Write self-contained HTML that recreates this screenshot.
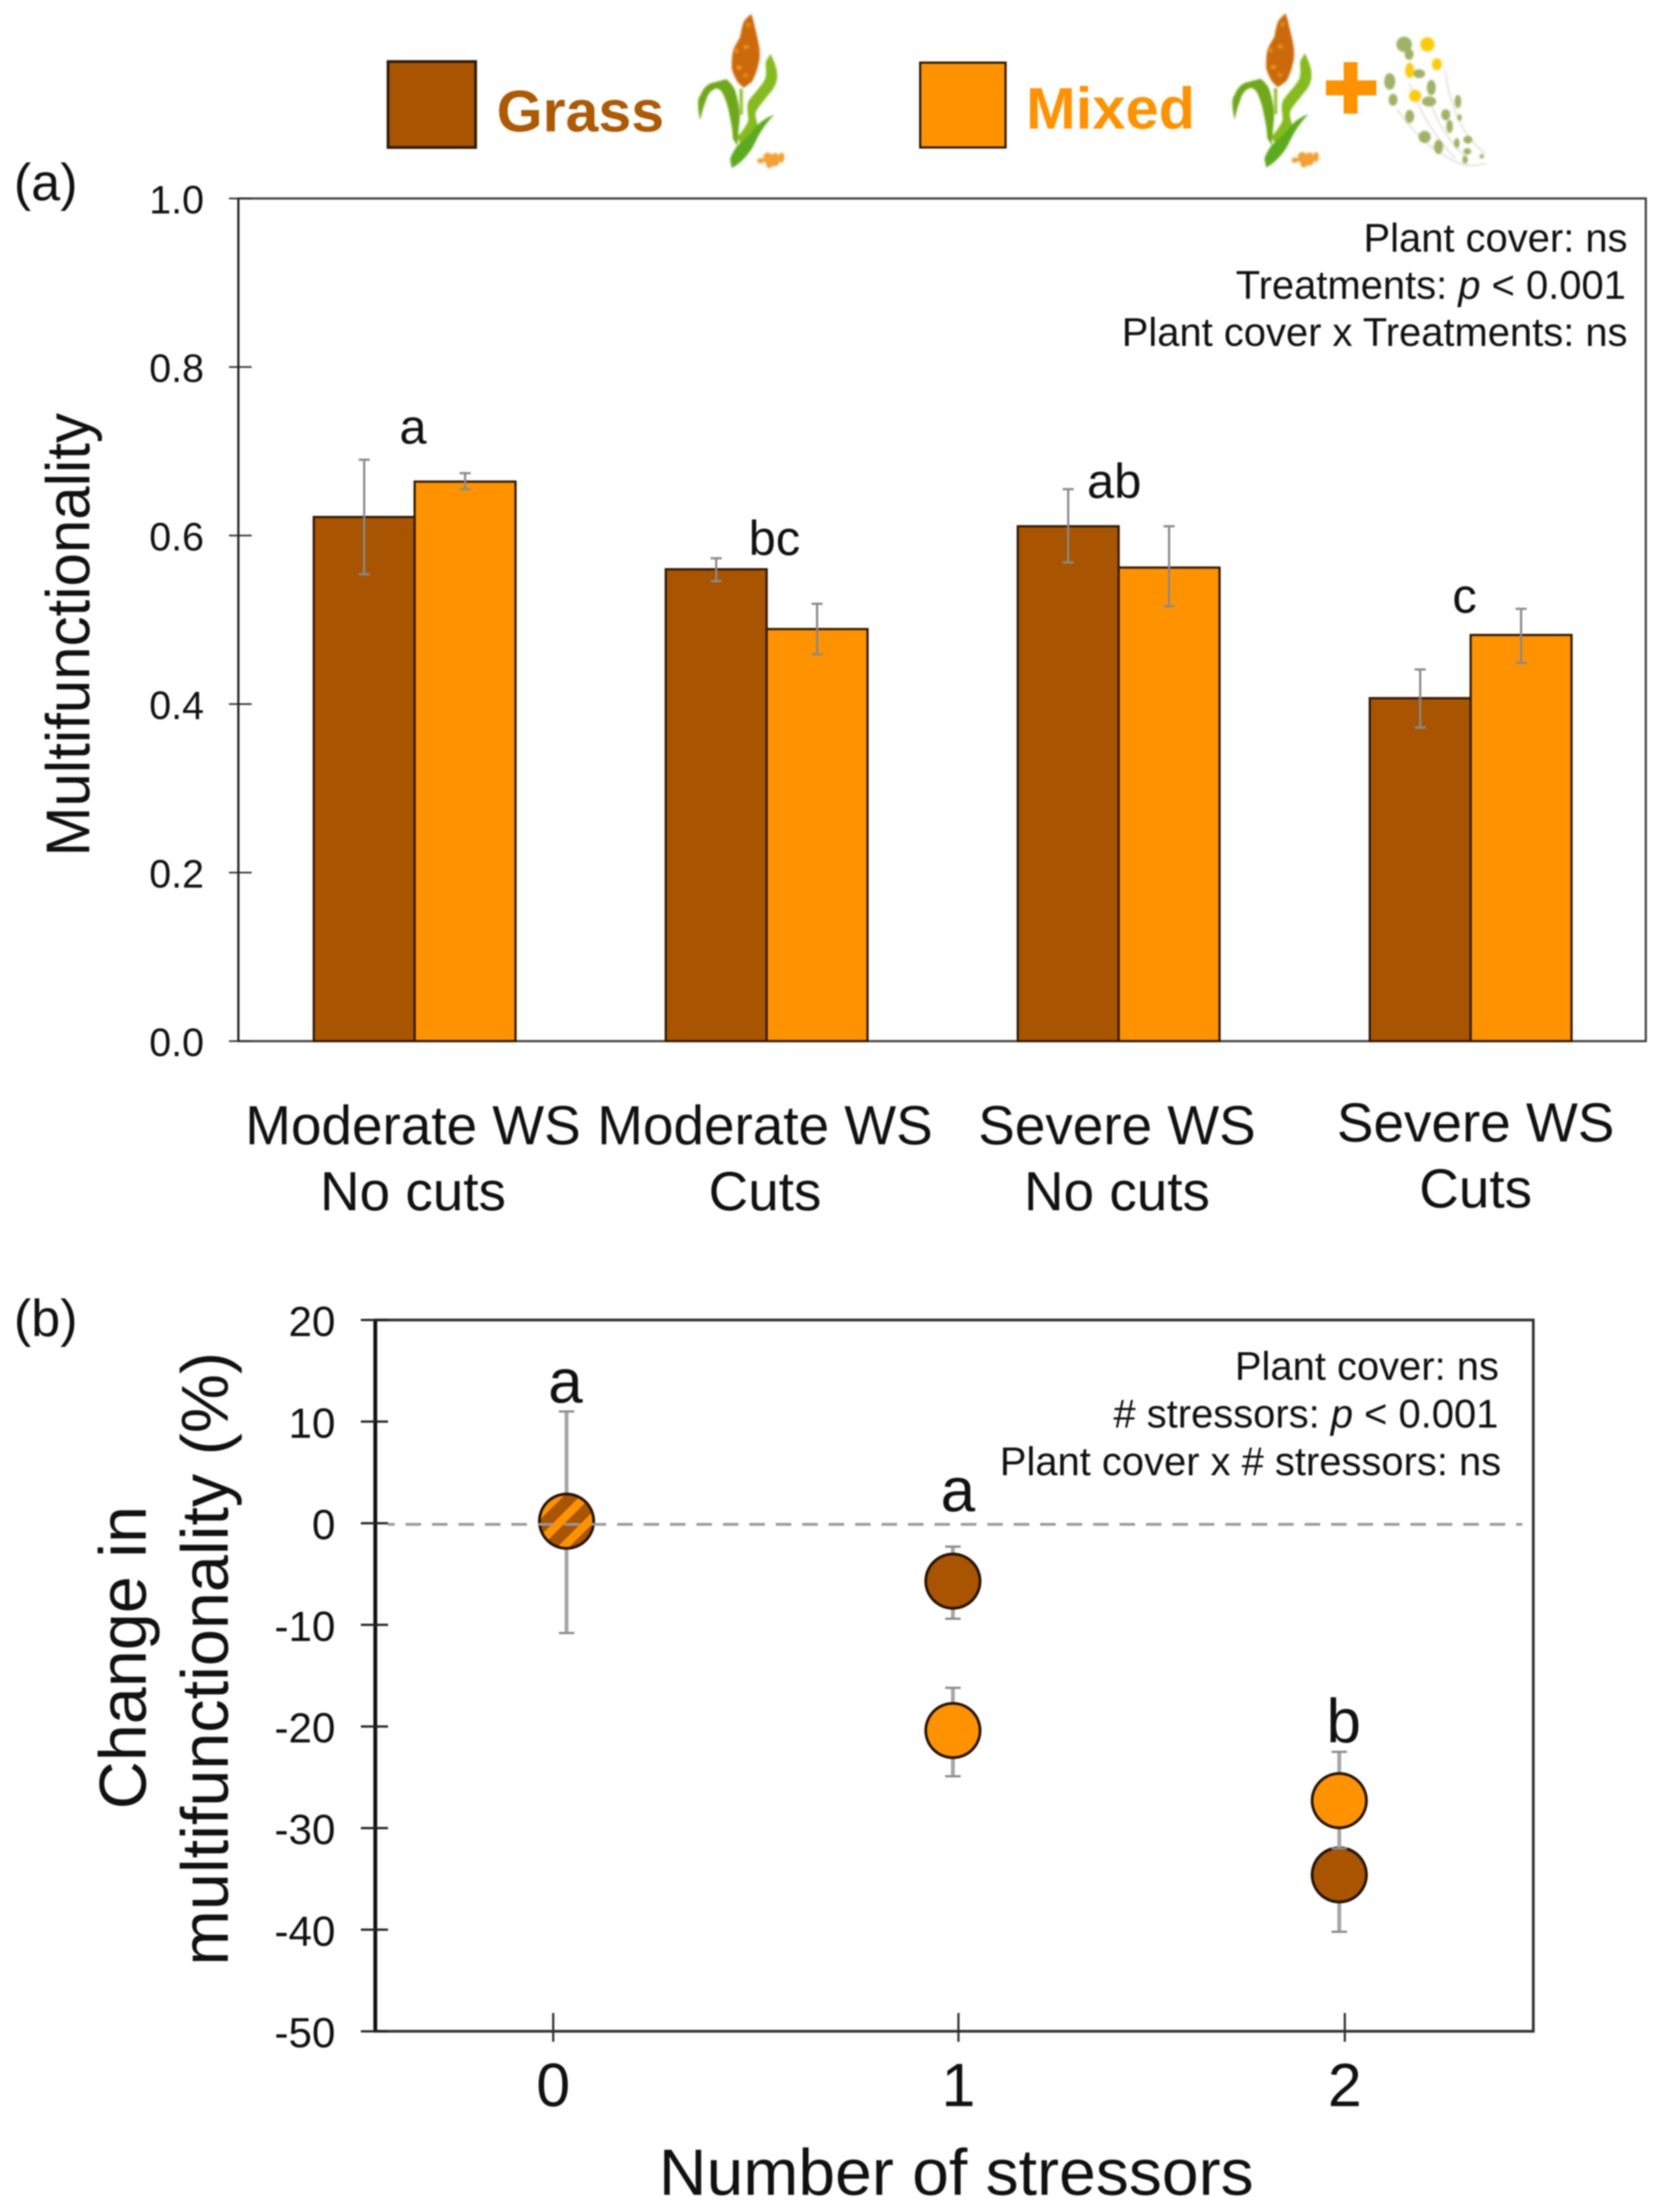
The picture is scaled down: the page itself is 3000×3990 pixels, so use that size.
<!DOCTYPE html>
<html>
<head>
<meta charset="utf-8">
<title>Multifunctionality chart</title>
<style>
  html,body{margin:0;padding:0;background:#fff;}
  svg{display:block;filter:blur(1.2px);}
  text{font-family:"Liberation Sans",sans-serif;fill:#111;}
  .soft{filter:blur(1.6px);}
</style>
</head>
<body>
<svg id="chart" xmlns="http://www.w3.org/2000/svg" width="3000" height="3990" viewBox="0 0 3000 3990">
  <defs>
    <pattern id="hatch" patternUnits="userSpaceOnUse" width="36" height="36" patternTransform="rotate(45 1022 2743)">
      <rect width="36" height="36" fill="#a85400"/>
      <rect width="15" height="36" fill="#ff9200"/>
    </pattern>
    <g id="sorghum" class="soft">
      <path d="M1334 160 L1340 160 L1340 207 L1335 207Z" fill="#8fbf2b"/>
      <path d="M1263 217 C1258 195 1258 175 1263 173 C1268 160 1275 153 1283 150 L1310 143 C1320 150 1326 160 1328 170 C1334 190 1336 210 1333 227 L1330 263 L1322 250 C1322 238 1320 228 1318 217 C1314 195 1310 180 1303 167 C1298 160 1294 159 1290 160 C1280 165 1276 172 1273 183 C1268 195 1266 205 1263 217Z" fill="#6fa819"/>
      <path d="M1390 97 C1396 110 1402 122 1402 137 C1402 150 1396 160 1387 170 C1378 182 1368 192 1363 203 C1362 212 1366 220 1367 227 C1358 240 1348 252 1337 263 L1330 247 C1338 238 1346 228 1350 217 C1350 205 1346 195 1350 183 C1358 170 1372 158 1380 143 C1384 130 1380 120 1382 110Z" fill="#85bb1e"/>
      <path d="M1397 207 C1388 215 1380 226 1373 237 C1366 248 1362 258 1357 267 C1346 284 1334 296 1320 303 L1317 287 C1320 278 1325 270 1330 263 C1342 252 1354 242 1363 230 C1368 224 1372 220 1377 217 C1384 212 1390 209 1397 207Z" fill="#5cab1f"/>
      <path d="M1355 25 C1350 30 1346 33 1343 37 C1338 47 1337 57 1335 67 C1330 76 1324 85 1322 93 C1320 103 1320 113 1320 123 C1322 132 1326 140 1330 147 C1334 152 1338 156 1342 158 C1347 155 1352 151 1357 147 C1362 137 1366 127 1368 117 C1371 107 1371 97 1370 87 C1368 74 1365 62 1362 50 C1360 40 1358 32 1355 25Z" fill="#cc6a0b"/>
      <ellipse cx="1333" cy="122" rx="5" ry="4" fill="#e8941a"/>
      <ellipse cx="1346" cy="85" rx="5" ry="4" fill="#e4901a"/>
      <ellipse cx="1328" cy="92" rx="4" ry="4" fill="#e4901a"/>
      <ellipse cx="1345" cy="136" rx="5" ry="4" fill="#de8814"/>
      <ellipse cx="1350" cy="45" rx="4" ry="5" fill="#de8814"/>
      <g fill="#f3a035">
        <ellipse cx="1372" cy="290" rx="6" ry="5"/>
        <ellipse cx="1385" cy="285" rx="8" ry="10"/>
        <ellipse cx="1398" cy="288" rx="9" ry="12"/>
        <ellipse cx="1410" cy="284" rx="5" ry="9"/>
        <ellipse cx="1388" cy="297" rx="6" ry="6"/>
      </g>
    </g>
  </defs>

  <rect x="0" y="0" width="3000" height="3990" fill="#fff"/>

  <g>
    <rect x="700" y="111" width="158" height="155" fill="#a85400" stroke="#2e1a05" stroke-width="5"/>
    <text x="896" y="237" font-size="106" font-weight="bold" textLength="302" lengthAdjust="spacingAndGlyphs" style="fill:#ad5a05">Grass</text>
    <use href="#sorghum"/>
    <rect x="1660" y="113" width="154" height="153" fill="#ff9200" stroke="#2e1a05" stroke-width="4"/>
    <text x="1851" y="232" font-size="106" font-weight="bold" textLength="305" lengthAdjust="spacingAndGlyphs" style="fill:#ff9200">Mixed</text>
    <use href="#sorghum" x="964" y="-1"/>
    <path d="M2424 112h25v33h34v27h-34v33h-25v-33h-32v-27h32z" fill="#ff9200"/>
    <g class="soft">
      <path d="M2520 197 C2550 240 2590 280 2640 297 C2655 300 2670 298 2680 295 M2607 127 C2615 190 2640 250 2680 277 M2543 150 C2560 200 2590 250 2625 285 M2582 190 C2595 225 2615 255 2645 285" stroke="#e6e0da" stroke-width="3" fill="none"/>
      <g fill="#8fa54a" opacity=".85">
        <ellipse cx="2533" cy="80" rx="14" ry="14"/><ellipse cx="2542" cy="98" rx="8" ry="10"/>
        <ellipse cx="2507" cy="147" rx="10" ry="15"/><ellipse cx="2513" cy="180" rx="8" ry="11"/>
        <ellipse cx="2560" cy="133" rx="11" ry="8"/><ellipse cx="2582" cy="158" rx="8" ry="14"/>
        <ellipse cx="2578" cy="183" rx="13" ry="9"/><ellipse cx="2543" cy="210" rx="8" ry="12"/>
        <ellipse cx="2570" cy="247" rx="11" ry="11"/><ellipse cx="2595" cy="265" rx="8" ry="13"/>
        <ellipse cx="2608" cy="207" rx="8" ry="10"/><ellipse cx="2615" cy="228" rx="6" ry="12"/>
        <ellipse cx="2630" cy="183" rx="6" ry="12"/><ellipse cx="2633" cy="212" rx="4" ry="6"/>
        <ellipse cx="2628" cy="258" rx="5" ry="9"/><ellipse cx="2648" cy="252" rx="8" ry="7"/>
        <ellipse cx="2647" cy="273" rx="7" ry="6"/><ellipse cx="2643" cy="288" rx="5" ry="7"/>
        <ellipse cx="2673" cy="282" rx="4" ry="4"/>
      </g>
      <g fill="#fbcc0a">
        <ellipse cx="2575" cy="80" rx="13" ry="13"/><ellipse cx="2543" cy="127" rx="8" ry="14"/>
        <ellipse cx="2592" cy="116" rx="9" ry="11"/><ellipse cx="2553" cy="173" rx="11" ry="11"/>
      </g>
    </g>
  </g>

  <text x="25" y="361" font-size="94">(a)</text>
  <text x="25" y="2410" font-size="94">(b)</text>

  <g id="panelA"></g>
  <g id="panelB"></g>

  <g font-size="72" text-anchor="end">
    <text x="2936" y="454">Plant cover: ns</text>
    <text x="2933" y="539">Treatments: <tspan font-style="italic">p</tspan> &lt; 0.001</text>
    <text x="2936" y="624">Plant cover x Treatments: ns</text>
  </g>
  <g font-size="72" text-anchor="end">
    <text x="2704" y="2489">Plant cover: ns</text>
    <text x="2703" y="2575"># stressors: <tspan font-style="italic">p</tspan> &lt; 0.001</text>
    <text x="2708" y="2661">Plant cover x # stressors: ns</text>
  </g>

  <g font-size="88" text-anchor="middle">
    <text x="745" y="800">a</text>
    <text x="1397" y="1001">bc</text>
    <text x="2010" y="898">ab</text>
    <text x="2642" y="1105">c</text>
  </g>
  <g font-size="112" text-anchor="middle">
    <text x="1020" y="2530">a</text>
    <text x="1728" y="2726">a</text>
    <text x="2424" y="3143">b</text>
  </g>

  <text transform="translate(161 1145) rotate(-90)" font-size="111" text-anchor="middle" textLength="800" lengthAdjust="spacingAndGlyphs">Multifunctionality</text>
  <text transform="translate(263 2990) rotate(-90)" font-size="120" text-anchor="middle">Change in</text>
  <text transform="translate(411 2992) rotate(-90)" font-size="120" text-anchor="middle">multifunctionality (%)</text>
  <text x="1725" y="3959" font-size="118" text-anchor="middle" textLength="1073" lengthAdjust="spacingAndGlyphs">Number of stressors</text>
</svg>

<script>
// Panel (a) data
const categoriesTop = ["Moderate WS", "Moderate WS", "Severe WS", "Severe WS"];
const categoriesBottom = ["No cuts", "Cuts", "No cuts", "Cuts"];
const grassMeans = [0.622, 0.560, 0.611, 0.407];
const grassErrHigh = [0.690, 0.573, 0.655, 0.441];
const grassErrLow = [0.554, 0.546, 0.568, 0.372];
const mixedMeans = [0.664, 0.489, 0.562, 0.482];
const mixedErrHigh = [0.674, 0.519, 0.611, 0.513];
const mixedErrLow = [0.655, 0.459, 0.516, 0.449];
const yTicksA = [0, 0.2, 0.4, 0.6, 0.8, 1.0];

// Panel (b) data
const xTicksB = [0, 1, 2];
const yTicksB = [20, 10, 0, -10, -20, -30, -40, -50];
const pooledX = [0];
const pooledChange = [0.2];
const pooledErrHigh = [11.0];
const pooledErrLow = [-10.8];
const grassX = [1, 2];
const grassChange = [-5.7, -34.6];
const grassChangeHigh = [-2.3, -29.0];
const grassChangeLow = [-9.4, -40.2];
const mixedX = [1, 2];
const mixedChange = [-20.4, -27.3];
const mixedChangeHigh = [-16.2, -22.5];
const mixedChangeLow = [-24.9, -32.0];

const BROWN = "#a85400", ORANGE = "#ff9200", EDGE = "#2e1a05";
const NS = "http://www.w3.org/2000/svg";
const panelA = document.getElementById("panelA");
const panelB = document.getElementById("panelB");

function mk(parent, tag, attrs, txt) {
  const el = document.createElementNS(NS, tag);
  for (const k in attrs) el.setAttribute(k, attrs[k]);
  if (txt !== undefined) el.textContent = txt;
  parent.appendChild(el);
  return el;
}

// Scales
const yA = v => 1878 - v * 1520;
const bandA = i => 748 + 635 * i;
const catX = i => bandA(i) + (i === 3 ? 9 : -3);
const BAR_W = 182;
const yB = v => 2381 + (20 - v) * 18.33;
const xB = v => 1022 + 697 * v;
const xTickB = v => xB(v) + (v === 0 ? -24 : 10);

// Panel (a) frame
const frameA = mk(panelA, "rect", {x: 430, y: 358, width: 2539, height: 1520, fill: "none", stroke: "#444", "stroke-width": 4});



yTicksA.forEach(t => {
  const tick = mk(panelA, "line", {x1: 413, x2: 454, y1: yA(t), y2: yA(t), stroke: "#333", "stroke-width": 3});
  
  
  const lab = mk(panelA, "text", {x: 368, y: yA(t) + 27, "font-size": 71, "text-anchor": "end"}, t.toFixed(1));
  
  
});

categoriesTop.forEach((c, i) => {
  const shift = i === 3 ? -5 : 0;
  const l1 = mk(panelA, "text", {x: catX(i), y: 2064 + shift, "font-size": 99, "text-anchor": "middle"}, c);
  
  
  const l2 = mk(panelA, "text", {x: catX(i), y: 2183 + shift, "font-size": 99, "text-anchor": "middle"}, categoriesBottom[i]);
  
  

  const gb = mk(panelA, "rect", {x: bandA(i) - BAR_W, y: yA(grassMeans[i]), width: BAR_W, height: yA(0) - yA(grassMeans[i]), fill: BROWN, stroke: EDGE, "stroke-width": 4});
  
  
  const mb = mk(panelA, "rect", {x: bandA(i), y: yA(mixedMeans[i]), width: BAR_W, height: yA(0) - yA(mixedMeans[i]), fill: ORANGE, stroke: EDGE, "stroke-width": 4});
  
  

  [[bandA(i) - BAR_W / 2, grassErrLow[i], grassErrHigh[i]], [bandA(i) + BAR_W / 2, mixedErrLow[i], mixedErrHigh[i]]].forEach(e => {
    const stem = mk(panelA, "line", {x1: e[0], x2: e[0], y1: yA(e[1]), y2: yA(e[2]), stroke: "#8a8a8a", "stroke-width": 4});
    
    
    const capHi = mk(panelA, "line", {x1: e[0] - 10, x2: e[0] + 10, y1: yA(e[2]), y2: yA(e[2]), stroke: "#8a8a8a", "stroke-width": 4});
    
    
    const capLo = mk(panelA, "line", {x1: e[0] - 10, x2: e[0] + 10, y1: yA(e[1]), y2: yA(e[1]), stroke: "#8a8a8a", "stroke-width": 4});
    
    
  });
});

const leftA = mk(panelA, "line", {x1: 430, x2: 430, y1: 358, y2: 1878, stroke: "#222", "stroke-width": 4});



// Panel (b) frame
const frameB = mk(panelB, "rect", {x: 677, y: 2381, width: 2089, height: 1283, fill: "none", stroke: "#333", "stroke-width": 5});


const leftB = mk(panelB, "line", {x1: 677, x2: 677, y1: 2381, y2: 3664, stroke: "#111", "stroke-width": 7});



yTicksB.forEach(t => {
  const tick = mk(panelB, "line", {x1: 651, x2: 700, y1: yB(t), y2: yB(t), stroke: "#222", "stroke-width": 4});
  
  
  const lab = mk(panelB, "text", {x: 605, y: yB(t) + 29, "font-size": 76, "text-anchor": "end"}, String(t));
  
  
});

xTicksB.forEach(t => {
  const tick = mk(panelB, "line", {x1: xTickB(t), x2: xTickB(t), y1: 3631, y2: 3683, stroke: "#333", "stroke-width": 4});
  
  
  const lab = mk(panelB, "text", {x: xTickB(t), y: 3799, "font-size": 110, "text-anchor": "middle"}, String(t));
  
  
});

function drawSeries(xs, vals, hi, lo, fill, name) {
  xs.forEach((x, i) => {
    const stem = mk(panelB, "line", {x1: xB(x), x2: xB(x), y1: yB(hi[i]), y2: yB(lo[i]), stroke: "#a6a6a6", "stroke-width": 7});
    
    
    const capHi = mk(panelB, "line", {x1: xB(x) - 14, x2: xB(x) + 14, y1: yB(hi[i]), y2: yB(hi[i]), stroke: "#8a8a8a", "stroke-width": 4});
    
    
    const capLo = mk(panelB, "line", {x1: xB(x) - 14, x2: xB(x) + 14, y1: yB(lo[i]), y2: yB(lo[i]), stroke: "#8a8a8a", "stroke-width": 4});
    
    
  });
  xs.forEach((x, i) => {
    const pt = mk(panelB, "circle", {cx: xB(x), cy: yB(vals[i]), r: 49, fill: fill, stroke: "#231303", "stroke-width": 5});
    
    
  });
}
drawSeries(pooledX, pooledChange, pooledErrHigh, pooledErrLow, "url(#hatch)", "point-pooled");
drawSeries(grassX, grassChange, grassChangeHigh, grassChangeLow, BROWN, "point-grass");
drawSeries(mixedX, mixedChange, mixedChangeHigh, mixedChangeLow, ORANGE, "point-mixed");

const zero = mk(panelB, "line", {x1: 699, x2: 2746, y1: yB(0) + 2, y2: yB(0) + 2, stroke: "#999", "stroke-width": 5, "stroke-dasharray": "28 19.7", "stroke-dashoffset": 15});


</script>
</body>
</html>
